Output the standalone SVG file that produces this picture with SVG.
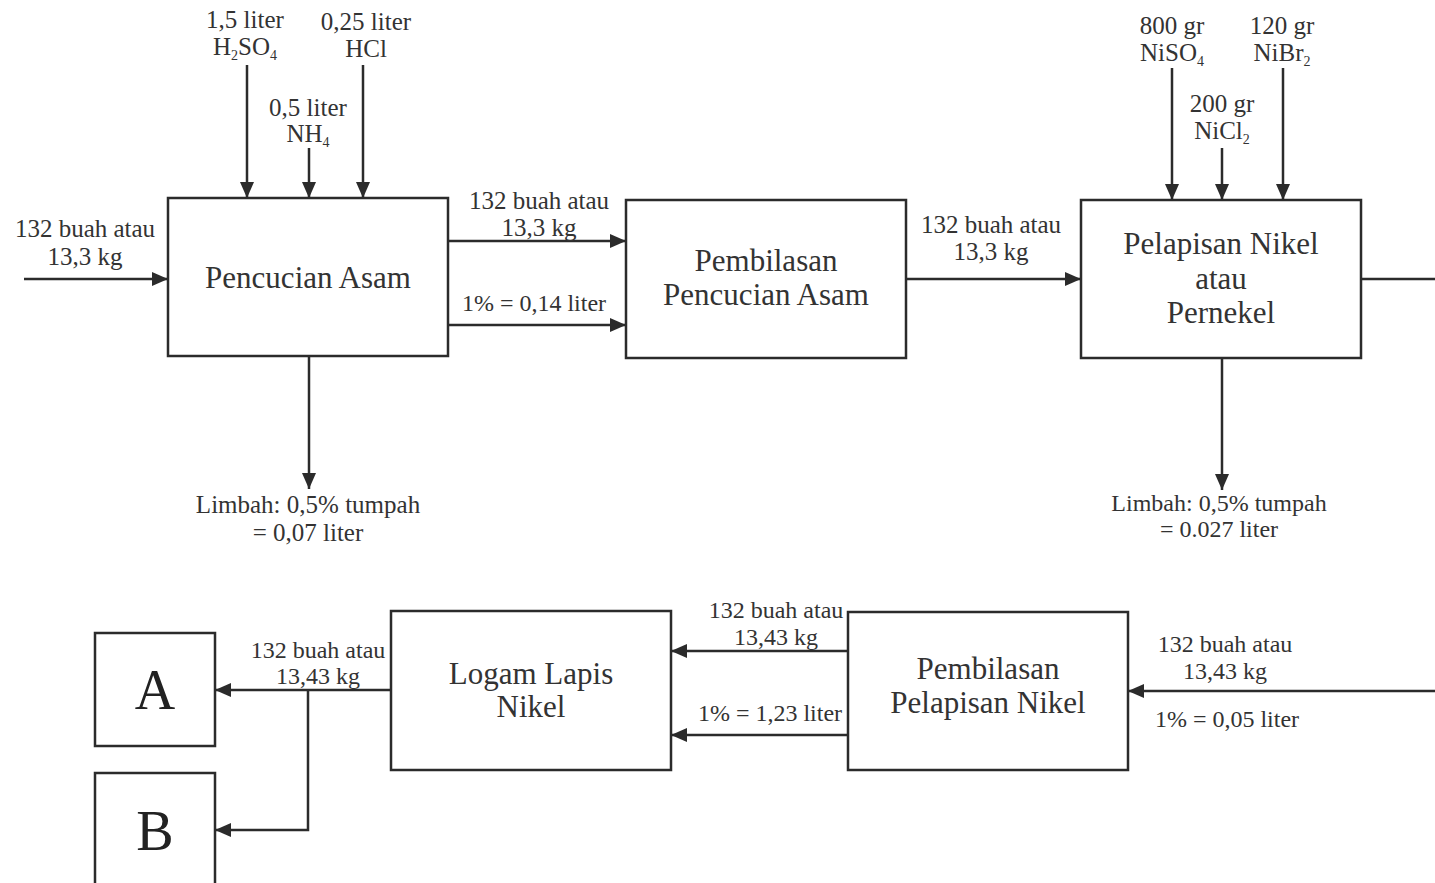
<svg xmlns="http://www.w3.org/2000/svg" width="1435" height="883" viewBox="0 0 1435 883" font-family="Liberation Serif, Times New Roman, DejaVu Serif, serif">
  <style>
    .box { fill: #ffffff; stroke: #2b2b2b; stroke-width: 2.5; }
    .ln { fill: none; stroke: #2b2b2b; stroke-width: 2.5; }
    text { font-family: 'Liberation Serif', 'Times New Roman', 'DejaVu Serif', serif; fill: #333333; text-anchor: middle; }
    .lab { font-size: 25px; }
    .pct { font-size: 24px; }
    .big { font-size: 31px; }
    .huge { font-size: 56px; fill: #222222; }
    .sub { font-size: 14px; }
  </style>
  <defs>
    <marker id="arr" viewBox="0 0 16 14" refX="16" refY="7" markerWidth="16" markerHeight="14" markerUnits="userSpaceOnUse" orient="auto">
      <path d="M0,0 L16,7 L0,14 Z" fill="#2b2b2b"/>
    </marker>
  </defs>
  <rect width="1435" height="883" fill="#ffffff"/>

  <!-- connectors -->
  <g id="connectors">
    <line class="ln" x1="24" y1="279" x2="168" y2="279" marker-end="url(#arr)"/>
    <line class="ln" x1="247" y1="65" x2="247" y2="198" marker-end="url(#arr)"/>
    <line class="ln" x1="309" y1="148" x2="309" y2="198" marker-end="url(#arr)"/>
    <line class="ln" x1="363" y1="65" x2="363" y2="198" marker-end="url(#arr)"/>
    <line class="ln" x1="448" y1="241" x2="626" y2="241" marker-end="url(#arr)"/>
    <line class="ln" x1="448" y1="325" x2="626" y2="325" marker-end="url(#arr)"/>
    <line class="ln" x1="309" y1="356" x2="309" y2="489" marker-end="url(#arr)"/>
    <line class="ln" x1="906" y1="279" x2="1081" y2="279" marker-end="url(#arr)"/>
    <line class="ln" x1="1172" y1="68" x2="1172" y2="200" marker-end="url(#arr)"/>
    <line class="ln" x1="1222" y1="148" x2="1222" y2="200" marker-end="url(#arr)"/>
    <line class="ln" x1="1283" y1="68" x2="1283" y2="200" marker-end="url(#arr)"/>
    <line class="ln" x1="1361" y1="279" x2="1435" y2="279"/>
    <line class="ln" x1="1222" y1="358" x2="1222" y2="490" marker-end="url(#arr)"/>
    <line class="ln" x1="1435" y1="691" x2="1128" y2="691" marker-end="url(#arr)"/>
    <line class="ln" x1="848" y1="651" x2="671" y2="651" marker-end="url(#arr)"/>
    <line class="ln" x1="848" y1="735" x2="671" y2="735" marker-end="url(#arr)"/>
    <line class="ln" x1="391" y1="690" x2="215" y2="690" marker-end="url(#arr)"/>
    <polyline class="ln" points="308,690 308,830 215,830" marker-end="url(#arr)"/>
  </g>

  <!-- flow labels -->
  <g id="labels">
    <text class="lab" x="245" y="28">1,5 liter</text>
    <text class="lab" x="245" y="55">H<tspan class="sub" dy="5">2</tspan><tspan dy="-5">SO</tspan><tspan class="sub" dy="5">4</tspan></text>
    <text class="lab" x="366" y="30">0,25 liter</text>
    <text class="lab" x="366" y="57">HCl</text>
    <text class="lab" x="308" y="116">0,5 liter</text>
    <text class="lab" x="308" y="142">NH<tspan class="sub" dy="5">4</tspan></text>
    <text class="lab" x="85" y="237">132 buah atau</text>
    <text class="lab" x="85" y="265">13,3 kg</text>
    <text class="lab" x="539" y="209">132 buah atau</text>
    <text class="lab" x="539" y="236">13,3 kg</text>
    <text class="lab pct" x="534" y="311">1% = 0,14 liter</text>
    <text class="lab" x="991" y="233">132 buah atau</text>
    <text class="lab" x="991" y="260">13,3 kg</text>
    <text class="lab" x="1172" y="34">800 gr</text>
    <text class="lab" x="1172" y="61">NiSO<tspan class="sub" dy="5">4</tspan></text>
    <text class="lab" x="1282" y="34">120 gr</text>
    <text class="lab" x="1282" y="61">NiBr<tspan class="sub" dy="5">2</tspan></text>
    <text class="lab" x="1222" y="112">200 gr</text>
    <text class="lab" x="1222" y="139">NiCl<tspan class="sub" dy="5">2</tspan></text>
    <text class="lab" x="308" y="513">Limbah: 0,5% tumpah</text>
    <text class="lab" x="308" y="541">= 0,07 liter</text>
    <text class="lab pct" x="1219" y="511">Limbah: 0,5% tumpah</text>
    <text class="lab pct" x="1219" y="537">= 0.027 liter</text>
    <text class="lab pct" x="776" y="618">132 buah atau</text>
    <text class="lab pct" x="776" y="645">13,43 kg</text>
    <text class="lab pct" x="770" y="721">1% = 1,23 liter</text>
    <text class="lab pct" x="1225" y="652">132 buah atau</text>
    <text class="lab pct" x="1225" y="679">13,43 kg</text>
    <text class="lab pct" x="1227" y="727">1% = 0,05 liter</text>
    <text class="lab pct" x="318" y="658">132 buah atau</text>
    <text class="lab pct" x="318" y="684">13,43 kg</text>
  </g>

  <!-- process nodes -->
  <g id="pencucian-asam">
    <rect class="box" x="168" y="198" width="280" height="158"/>
    <text class="big" x="308" y="288">Pencucian Asam</text>
  </g>
  <g id="pembilasan-pencucian-asam">
    <rect class="box" x="626" y="200" width="280" height="158"/>
    <text class="big" x="766" y="271">Pembilasan</text>
    <text class="big" x="766" y="305">Pencucian Asam</text>
  </g>
  <g id="pelapisan-nikel">
    <rect class="box" x="1081" y="200" width="280" height="158"/>
    <text class="big" x="1221" y="254">Pelapisan Nikel</text>
    <text class="big" x="1221" y="289">atau</text>
    <text class="big" x="1221" y="323">Pernekel</text>
  </g>
  <g id="pembilasan-pelapisan-nikel">
    <rect class="box" x="848" y="612" width="280" height="158"/>
    <text class="big" x="988" y="679">Pembilasan</text>
    <text class="big" x="988" y="713">Pelapisan Nikel</text>
  </g>
  <g id="logam-lapis-nikel">
    <rect class="box" x="391" y="611" width="280" height="159"/>
    <text class="big" x="531" y="684">Logam Lapis</text>
    <text class="big" x="531" y="717">Nikel</text>
  </g>
  <g id="node-a">
    <rect class="box" x="95" y="633" width="120" height="113"/>
    <text class="huge" x="155" y="709">A</text>
  </g>
  <g id="node-b">
    <rect class="box" x="95" y="773" width="120" height="120"/>
    <text class="huge" x="155" y="850">B</text>
  </g>
</svg>
